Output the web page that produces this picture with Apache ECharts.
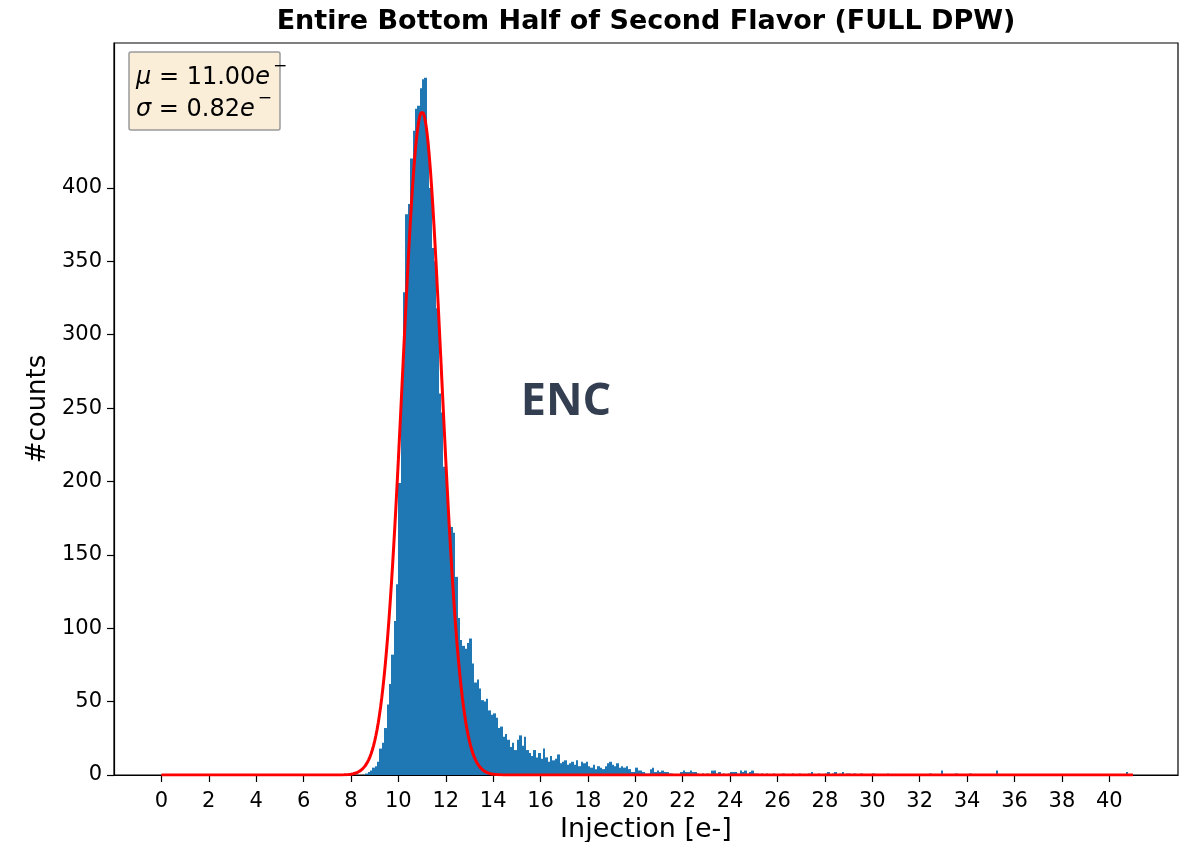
<!DOCTYPE html>
<html>
<head>
<meta charset="utf-8">
<title>Entire Bottom Half of Second Flavor (FULL DPW)</title>
<script src="https://cdn.jsdelivr.net/npm/echarts@6/dist/echarts.min.js"></script>
<style>
  html, body { margin: 0; padding: 0; background: #fff; }
  #chart { width: 1187px; height: 842px; }
</style>
</head>
<body>
<div id="chart"></div>
<script>
// Histogram binning: fixed-width bins starting at BIN_START
const BIN_START = 8.5;
const BIN_WIDTH = 0.1;

// Counts per bin, 8.5 .. 15.0 e-
const peakCounts = [
  0, 1, 2, 3, 5, 6, 9, 18, 22, 32,            // 8.5 - 9.4
  48, 62, 82, 105, 130,                       // 9.5 - 9.9
  199, 262, 329, 382, 389, 420, 439, 454, 456, 468,   // 10.0 - 10.9
  474, 475, 432, 400, 359, 350, 318, 260, 247, 210,   // 11.0 - 11.9
  203, 175, 169, 165, 135, 107, 92, 88, 86, 90,       // 12.0 - 12.9
  93, 76, 63, 65, 59, 51, 50, 52, 44, 41,             // 13.0 - 13.9
  42, 39, 32, 33, 26, 28, 24, 19, 22, 17              // 14.0 - 14.9
];

// Counts per bin, 15.0 .. 41.0 e-
const tailCounts = [
  24, 27, 20, 26, 17, 15, 13, 17, 12, 15,   // 15
  11, 18, 12, 9, 13, 10, 11, 14, 8, 9,      // 16
  10, 7, 8, 9, 7, 10, 6, 9, 8, 9,           // 17
  6, 5, 7, 4, 6, 5, 4, 6, 8, 9,             // 18
  7, 6, 8, 5, 6, 5, 6, 4, 2, 2,             // 19
  5, 3, 3, 2, 1, 1, 4, 5, 2, 3,             // 20
  2, 3, 2, 2, 1, 1, 0, 0, 0, 2,             // 21
  3, 2, 2, 3, 2, 2, 1, 0, 1, 0,             // 22
  1, 0, 3, 3, 1, 2, 0, 1, 0, 1,             // 23
  2, 2, 2, 1, 3, 2, 3, 1, 2, 3,             // 24
  1, 1, 0, 1, 0, 1, 0, 0, 1, 0,             // 25
  0, 0, 1, 0, 0, 0, 1, 0, 0, 1,             // 26
  0, 0, 0, 1, 2, 0, 0, 1, 0, 0,             // 27
  1, 2, 0, 1, 2, 0, 1, 2, 0, 1,             // 28
  1, 0, 1, 0, 0, 1, 0, 0, 0, 0,             // 29
  1, 0, 0, 0, 0, 0, 1, 0, 0, 0,             // 30
  0, 0, 0, 0, 0, 0, 0, 0, 0, 0,             // 31
  0, 0, 0, 0, 1, 0, 0, 0, 0, 3,             // 32
  0, 0, 0, 0, 0, 1, 0, 0, 0, 0,             // 33
  0, 1, 0, 0, 0, 0, 0, 0, 0, 0,             // 34
  0, 0, 3, 0, 0, 0, 0, 0, 0, 0,             // 35
  0, 0, 0, 0, 0, 0, 0, 0, 0, 0,             // 36
  0, 0, 0, 0, 0, 0, 0, 0, 0, 0,             // 37
  0, 0, 0, 0, 0, 0, 0, 0, 0, 0,             // 38
  0, 0, 0, 0, 0, 0, 0, 0, 0, 0,             // 39
  0, 0, 0, 0, 0, 0, 0, 2, 0, 0              // 40
];

// Gaussian fit parameters (as printed in the stats box)
const FIT_MU = 11.00;
const FIT_SIGMA = 0.82;
const FIT_AMP = 452;
const FIT_RANGE = [0, 41];

// Axis ticks
const xTicks = [0, 2, 4, 6, 8, 10, 12, 14, 16, 18, 20, 22, 24, 26, 28, 30, 32, 34, 36, 38, 40];
const yTicks = [0, 50, 100, 150, 200, 250, 300, 350, 400];

const TITLE = 'Entire Bottom Half of Second Flavor (FULL DPW)';
const X_NAME = 'Injection [e-]';
const Y_NAME = '#counts';
const ANNOTATION = 'ENC';

// Build histogram records [left edge, right edge, count]
const counts = peakCounts.concat(tailCounts);
const histData = [];
counts.forEach(function (c, i) {
  if (c > 0) {
    const x0 = +(BIN_START + i * BIN_WIDTH).toFixed(2);
    histData.push([x0, +(x0 + BIN_WIDTH).toFixed(2), c]);
  }
});

// Fitted Gaussian curve sampled over the fit range
const fitData = [];
for (let k = 0; k <= 820; k++) {
  const x = FIT_RANGE[0] + (FIT_RANGE[1] - FIT_RANGE[0]) * k / 820;
  const z = (x - FIT_MU) / FIT_SIGMA;
  fitData.push([x, FIT_AMP * Math.exp(-0.5 * z * z)]);
}

const FONT = 'DejaVu Sans';
const chart = echarts.init(document.getElementById('chart'), null, { renderer: 'canvas' });

chart.setOption({
  animation: false,
  backgroundColor: '#ffffff',
  grid: {
    left: 114, right: 9, top: 43, bottom: 67,
    outerBoundsMode: 'none',
    containLabel: false,
    show: true, borderColor: '#000', borderWidth: 1.2, backgroundColor: 'transparent'
  },
  xAxis: {
    type: 'value',
    min: -2.0, max: 42.9,
    name: X_NAME,
    nameLocation: 'middle',
    nameGap: 39,
    nameTextStyle: { fontFamily: FONT, fontSize: 27, color: '#000' },
    axisLine: { show: true, onZero: false, lineStyle: { color: '#000', width: 1.2 } },
    axisTick: { show: true, length: 7, customValues: xTicks, lineStyle: { color: '#000', width: 1.2 } },
    axisLabel: { customValues: xTicks, fontFamily: FONT, fontSize: 21, color: '#000', margin: 16 },
    splitLine: { show: false }
  },
  yAxis: {
    type: 'value',
    min: 0, max: 498.75,
    name: Y_NAME,
    nameLocation: 'middle',
    nameGap: 62,
    nameRotate: 90,
    nameTextStyle: { fontFamily: FONT, fontSize: 26, color: '#000' },
    axisLine: { show: true, onZero: false, lineStyle: { color: '#000', width: 1.2 } },
    axisTick: { show: true, length: 7, customValues: yTicks, lineStyle: { color: '#000', width: 1.2 } },
    axisLabel: { customValues: yTicks, fontFamily: FONT, fontSize: 21, color: '#000', margin: 12 },
    splitLine: { show: false }
  },
  series: [
    {
      name: 'counts',
      type: 'custom',
      clip: true,
      encode: { x: [0, 1], y: 2 },
      data: histData,
      renderItem: function (params, api) {
        const top = api.coord([api.value(0), api.value(2)]);
        const base = api.coord([api.value(1), 0]);
        // snap bar edges to whole pixels so neighbouring bins join without seams
        const xl = Math.round(top[0]);
        const xr = Math.round(base[0]);
        return {
          type: 'rect',
          shape: { x: xl, y: top[1], width: Math.max(1, xr - xl), height: base[1] - top[1] },
          style: { fill: '#1f77b4' }
        };
      },
      z: 2
    },
    {
      name: 'fit',
      type: 'line',
      data: fitData,
      showSymbol: false,
      symbol: 'none',
      lineStyle: { color: '#ff0000', width: 3 },
      clip: true,
      z: 3
    }
  ],
  graphic: [
    {
      type: 'text',
      x: 646, y: 8,
      style: {
        text: TITLE,
        align: 'center',
        font: 'bold 27px "DejaVu Sans"',
        fill: '#000'
      }
    },
    {
      type: 'rect',
      shape: { x: 129, y: 52, width: 151, height: 78, r: 2 },
      style: { fill: 'rgba(245,222,179,0.5)', stroke: '#9a9a9a', lineWidth: 1.5 },
      z: 10
    },
    {
      type: 'text',
      x: 136, y: 58,
      z: 11,
      style: {
        text: '{i|μ}{r| = 11.00}{i|e}{s|−}\n{i|σ}{r| = 0.82}{i|e}{s|−}',
        rich: {
          i: { fontFamily: FONT, fontStyle: 'italic', fontSize: 24, lineHeight: 32, verticalAlign: 'bottom', fill: '#000' },
          r: { fontFamily: FONT, fontSize: 24, lineHeight: 32, verticalAlign: 'bottom', fill: '#000' },
          s: { fontFamily: FONT, fontSize: 17, lineHeight: 32, verticalAlign: 'top', padding: [0, 0, 0, 3], fill: '#000' }
        }
      }
    },
    {
      type: 'text',
      x: 566, y: 402,
      z: 11,
      style: {
        text: ANNOTATION,
        align: 'center',
        verticalAlign: 'middle',
        font: 'bold 45px "Open Sans"',
        fill: '#333f50'
      }
    }
  ]
});
</script>
</body>
</html>
